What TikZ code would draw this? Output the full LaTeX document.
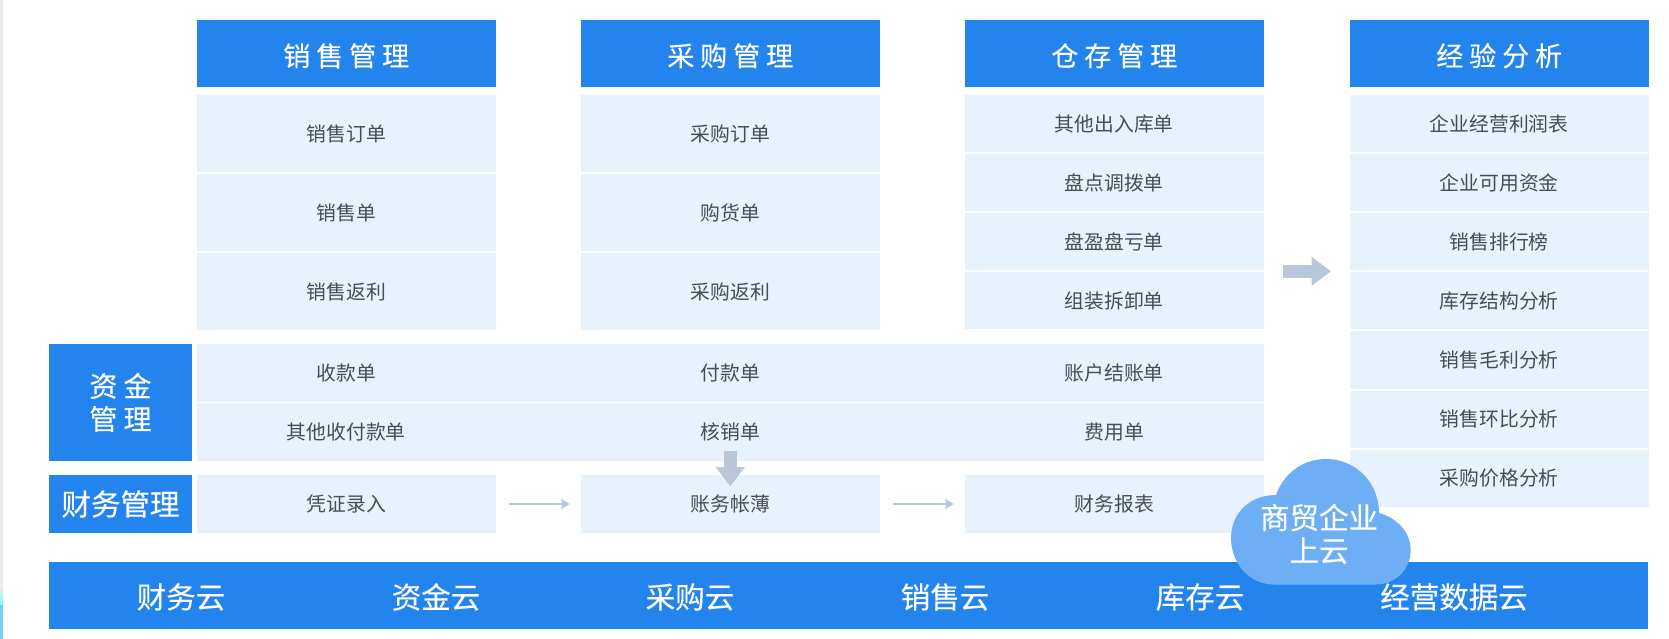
\documentclass[tikz,border=0pt]{standalone}
\usepackage{fontspec}
\setmainfont{Noto Sans CJK SC}
\newfontfamily\widefont[LetterSpace=22,FakeBold=0.25]{Noto Sans CJK SC}
\newfontfamily\whitefont[FakeBold=0.25]{Noto Sans CJK SC}
\usetikzlibrary{arrows.meta, positioning}
\definecolor{headblue}{HTML}{2484EE}
\definecolor{cellblue}{HTML}{E7F2FD}
\definecolor{arrowgray}{HTML}{B8C7DA}
\definecolor{cloudblue}{HTML}{6DAEF5}
\definecolor{textgray}{HTML}{484D52}

\begin{document}
\begin{tikzpicture}[
  x=1pt, y=-1pt,
  node distance=2pt,
  outer sep=0pt,
  header/.style={fill=headblue, text=white, minimum width=298.5pt, minimum height=67.5pt, inner sep=0pt, text height=24.6pt, text depth=0pt, font=\widefont\fontsize{27}{30}\selectfont},
  side/.style={fill=headblue, text=white, inner sep=0pt, minimum width=143pt, font=\whitefont\fontsize{29.5}{34}\selectfont},
  bar/.style={fill=headblue, inner sep=0pt, minimum width=1599pt, minimum height=67pt},
  barlabel/.style={text=white, inner sep=0pt, font=\whitefont\fontsize{29.5}{34}\selectfont},
  cellbase/.style={fill=cellblue, text=textgray, inner sep=0pt, font=\fontsize{19.8}{24}\selectfont},
  tall/.style={cellbase, minimum width=298.5pt, minimum height=77pt},
  slim/.style={cellbase, minimum width=298.5pt, minimum height=57.1pt},
  wide/.style={cellbase, minimum width=1067pt, minimum height=57.6pt},
  plain/.style={text=textgray, inner sep=0pt, font=\fontsize{19.8}{24}\selectfont},
  flow/.style={draw=arrowgray, line width=2.4pt, -{Triangle[length=8pt,width=10pt]}, shorten <=13pt, shorten >=11.5pt},
  bigarrow/.style={draw=arrowgray, line width=13pt, -{Triangle[length=19.5pt,width=28pt]}}
]
\useasboundingbox (0,0) rectangle (1669,639);

% Page edge
\fill[black!8] (0,0) rectangle (2.5,587);
\shade[top color=black!8, bottom color=cyan!55] (0,587) rectangle (3,605);
\fill[cyan!55] (0,605) rectangle (3,639);

% Headers
\node[header, anchor=north west] (h1) at (197,20) {销售管理};
\node[header, anchor=north west] (h2) at (581,20) {采购管理};
\node[header, anchor=north west] (h3) at (965,20) {仓存管理};
\node[header, anchor=north west] (h4) at (1350,20) {经验分析};

% Sales
\node[tall, anchor=north] (s1) at (h1.south |- 0,95) {销售订单};
\node[tall, below=of s1] (s2) {销售单};
\node[tall, below=of s2] (s3) {销售返利};

% Purchasing
\node[tall, anchor=north] (p1) at (h2.south |- 0,95) {采购订单};
\node[tall, below=of p1] (p2) {购货单};
\node[tall, below=of p2] (p3) {采购返利};

% Warehouse
\node[slim, anchor=north] (w1) at (h3.south |- 0,95) {其他出入库单};
\node[slim, below=of w1] (w2) {盘点调拨单};
\node[slim, below=of w2] (w3) {盘盈盘亏单};
\node[slim, below=of w3] (w4) {组装拆卸单};

% Analysis
\node[slim, anchor=north] (a1) at (h4.south |- 0,95) {企业经营利润表};
\node[slim, below=of a1] (a2) {企业可用资金};
\node[slim, below=of a2] (a3) {销售排行榜};
\node[slim, below=of a3] (a4) {库存结构分析};
\node[slim, below=of a4] (a5) {销售毛利分析};
\node[slim, below=of a5] (a6) {销售环比分析};
\node[slim, below=of a6] (a7) {采购价格分析};

% Funds
\node[wide, anchor=north west] (r1) at (197,344) {};
\node[wide, below=1.6pt of r1] (r2) {};
\node[side, anchor=north west, minimum height=116.8pt, align=center, font=\widefont\fontsize{28}{34}\selectfont] (fund) at (49,344) {资金\\[-1pt]管理};
\node[plain] (r1a) at (r1 -| h1) {收款单};
\node[plain] (r1b) at (r1 -| h2) {付款单};
\node[plain] (r1c) at (r1 -| h3) {账户结账单};
\node[plain] (r2a) at (r2 -| h1) {其他收付款单};
\node[plain] (r2b) at (r2 -| h2) {核销单};
\node[plain] (r2c) at (r2 -| h3) {费用单};

% Finance
\node[side, anchor=north west, minimum height=58pt] (fin) at (49,475) {财务管理};
\node[slim, anchor=north west, minimum height=58pt] (l1) at (197,475) {凭证录入};
\node[slim, anchor=north west, minimum height=58pt] (l2) at (581,475) {账务帐薄};
\node[slim, anchor=north west, minimum height=58pt] (l3) at (965,475) {财务报表};

% Cloud bar
\node[bar, anchor=north west] (bar) at (49,561.5) {};
\node[barlabel] (b1) at ([xshift=132pt,yshift=-2pt]bar.west) {财务云};
\node[barlabel] (b2) at ([xshift=387pt,yshift=-2pt]bar.west) {资金云};
\node[barlabel] (b3) at ([xshift=641pt,yshift=-2pt]bar.west) {采购云};
\node[barlabel] (b4) at ([xshift=896pt,yshift=-2pt]bar.west) {销售云};
\node[barlabel] (b5) at ([xshift=1151pt,yshift=-2pt]bar.west) {库存云};
\node[barlabel] (b6) at ([xshift=1405pt,yshift=-2pt]bar.west) {经营数据云};

% Arrows
\draw[flow] (l1) -- (l2);
\draw[flow] (l2) -- (l3);
\draw[bigarrow, shorten <=19.5pt, shorten >=19pt] ([yshift=-1pt]w3.south east) -- ([yshift=-1pt]a3.south west);
\draw[bigarrow, shorten <=-9.5pt, shorten >=-11.5pt] (r2.south -| l2.north) -- (l2.north);

% Cloud
\fill[cloudblue] (1274,584.5) .. controls (1248,584.5) and (1231,562) .. (1231,538)
  .. controls (1231,513) and (1250,495) .. (1276,495)
  .. controls (1284,473) and (1303,459) .. (1326,459)
  .. controls (1356,459) and (1379,483) .. (1379,513)
  .. controls (1397,518) and (1410.6,532) .. (1410.6,550)
  .. controls (1410.6,570) and (1395,584.5) .. (1376,584.5) -- cycle;
\node[text=white, inner sep=0pt, align=center, font=\whitefont\fontsize{29.5}{33}\selectfont] (sky) at (1319,534) {商贸企业\\上云};

\end{tikzpicture}
\end{document}
